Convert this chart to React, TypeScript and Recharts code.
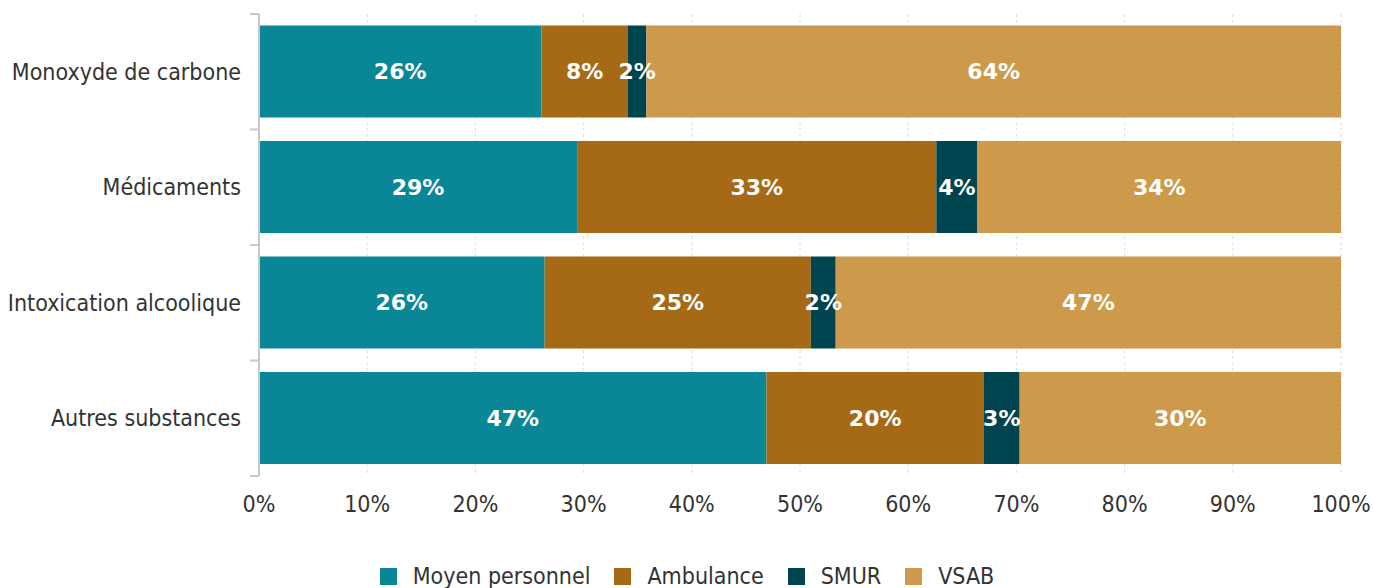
import React from "react"
import { BarChart, Bar, XAxis, YAxis, CartesianGrid, Legend, LabelList } from "recharts"

const categories = ["Monoxyde de carbone", "Médicaments", "Intoxication alcoolique", "Autres substances"]
const moyenPersonnel = [26.1, 29.4, 26.4, 46.9]
const ambulance = [8.0, 33.2, 24.6, 20.1]
const smur = [1.7, 3.8, 2.3, 3.3]
const vsab = [64.2, 33.6, 46.7, 29.7]
const xTicks = [0, 10, 20, 30, 40, 50, 60, 70, 80, 90, 100]

const series = [
  { key: "moyen", name: "Moyen personnel", color: "#0A8797" },
  { key: "ambulance", name: "Ambulance", color: "#A66A17" },
  { key: "smur", name: "SMUR", color: "#00444F" },
  { key: "vsab", name: "VSAB", color: "#CC9A4A" },
]

const data = categories.map((name, i) => ({
  name,
  moyen: moyenPersonnel[i],
  ambulance: ambulance[i],
  smur: smur[i],
  vsab: vsab[i],
}))

const W = 1374
const H = 588
const TOP = 14
const PLOT_BOTTOM = 476
const LEGEND_H = 40
const Y_WIDTH = 259
const BAND = (PLOT_BOTTOM - TOP) / categories.length
const FONT = "'DejaVu Sans Condensed', 'DejaVu Sans', sans-serif"

function CategoryTick(props: any) {
  const { x, y, payload, index } = props
  const axisX = Y_WIDTH
  return (
    <g>
      <line x1={axisX - 9} x2={axisX} y1={y - BAND / 2} y2={y - BAND / 2} stroke="#c8c8c8" strokeWidth={2} />
      {index === categories.length - 1 && (
        <line x1={axisX - 9} x2={axisX} y1={y + BAND / 2} y2={y + BAND / 2} stroke="#c8c8c8" strokeWidth={2} />
      )}
      <text x={x} y={y} dy="0.35em" textAnchor="end" fill="#333" fontSize={23} fontFamily={FONT}>
        {payload.value}
      </text>
    </g>
  )
}

function LegendContent() {
  return (
    <div
      style={{
        width: W,
        height: LEGEND_H,
        display: "flex",
        justifyContent: "center",
        alignItems: "flex-end",
        gap: 24,
        fontFamily: FONT,
        fontSize: 23,
        color: "#333",
      }}
    >
      {series.map((s) => (
        <div key={s.key} style={{ display: "flex", alignItems: "center", lineHeight: "24px" }}>
          <span style={{ width: 17, height: 17, background: s.color, display: "inline-block", marginRight: 16 }} />
          <span>{s.name}</span>
        </div>
      ))}
    </div>
  )
}

export default function App() {
  return (
    <div style={{ position: "absolute", left: 0, top: 0, background: "#fff" }}>
      <BarChart
        width={W}
        height={H}
        data={data}
        layout="vertical"
        margin={{ top: TOP, right: 33, left: 0, bottom: 0 }}
        barCategoryGap="10%"
      >
        <CartesianGrid horizontal={false} stroke="#dcdcdc" strokeDasharray="3 3" />
        <XAxis
          type="number"
          domain={[0, 100]}
          ticks={xTicks}
          tickFormatter={(v) => `${v}%`}
          axisLine={false}
          tickLine={false}
          tickMargin={14}
          height={H - PLOT_BOTTOM - LEGEND_H}
          tick={{ fontSize: 23, fill: "#333", fontFamily: FONT }}
        />
        <YAxis
          type="category"
          dataKey="name"
          width={Y_WIDTH}
          axisLine={{ stroke: "#c8c8c8", strokeWidth: 2 }}
          tickLine={false}
          tickSize={0}
          tickMargin={18}
          tick={<CategoryTick />}
        />
        <Legend
          verticalAlign="bottom"
          wrapperStyle={{ left: 0, width: W }}
          content={<LegendContent />}
        />
        {series.map((s) => (
          <Bar key={s.key} dataKey={s.key} name={s.name} stackId="a" fill={s.color} isAnimationActive={false}>
            <LabelList
              dataKey={s.key}
              position="center"
              formatter={(v: any) => `${Math.round(Number(v))}%`}
              fill="#fff"
              fontSize={22}
              fontWeight="bold"
              fontFamily="'DejaVu Sans', sans-serif"
            />
          </Bar>
        ))}
      </BarChart>
    </div>
  )
}
